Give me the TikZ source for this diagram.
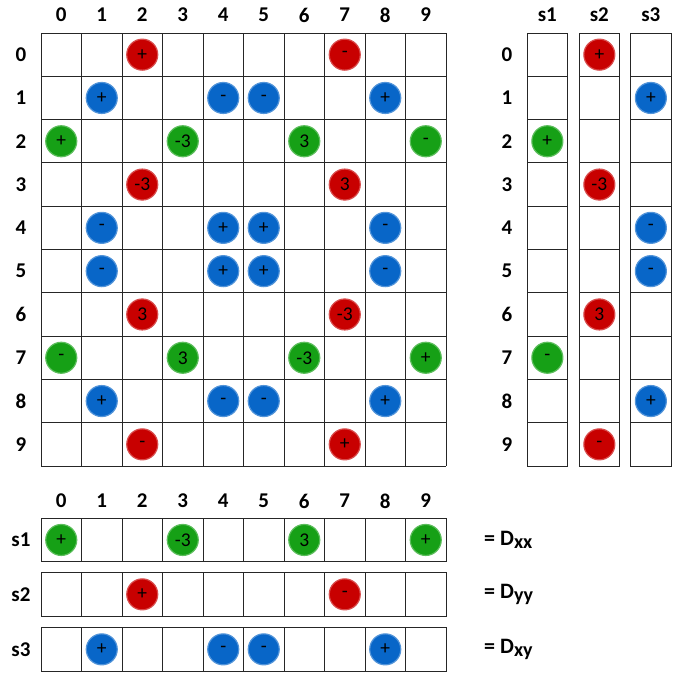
\documentclass[tikz,border=0pt]{standalone}
\usepackage{fontspec}
\setmainfont{Carlito}
\definecolor{cred}{RGB}{200,0,0}
\definecolor{cblue}{RGB}{8,102,200}
\definecolor{cgreen}{RGB}{22,160,22}
\begin{document}
\begin{tikzpicture}[x=1pt,y=-1pt,
  cell/.style={draw=black!85, line width=0.9pt},
  lab/.style={font=\fontsize{21}{23}\selectfont\bfseries},
  dot/.style={circle, minimum size=31pt, inner sep=0pt, fill=#1, draw=#1!70, line width=1.2pt,
    font=\fontsize{19.5}{19.5}\selectfont},
]
\useasboundingbox (0,0) rectangle (683,675);
% ---------- main grid ----------
\foreach \i in {0,...,10} \draw[cell] ({41+40.5*\i},33) -- ({41+40.5*\i},466);
\foreach \j in {0,...,10} \draw[cell] (41,{33+43.3*\j}) -- (446,{33+43.3*\j});
\foreach \i in {0,...,9} {
  \node[lab] (mc\i) at ({41+40.5*(\i+0.5)},15) {\i};
  \node[lab] (mr\i) at (21,{33+43.3*(\i+0.5)}) {\i};
}
\foreach \r/\c/\k/\t in {
  0/2/cred/+, 0/7/cred/-,
  1/1/cblue/+, 1/4/cblue/-, 1/5/cblue/-, 1/8/cblue/+,
  2/0/cgreen/+, 2/3/cgreen/-3, 2/6/cgreen/3, 2/9/cgreen/-,
  3/2/cred/-3, 3/7/cred/3,
  4/1/cblue/-, 4/4/cblue/+, 4/5/cblue/+, 4/8/cblue/-,
  5/1/cblue/-, 5/4/cblue/+, 5/5/cblue/+, 5/8/cblue/-,
  6/2/cred/3, 6/7/cred/-3,
  7/0/cgreen/-, 7/3/cgreen/3, 7/6/cgreen/-3, 7/9/cgreen/+,
  8/1/cblue/+, 8/4/cblue/-, 8/5/cblue/-, 8/8/cblue/+,
  9/2/cred/-, 9/7/cred/+}
  \node[dot=\k] (m\r\c) at ({41+40.5*(\c+0.5)},{33+43.3*(\r+0.5)}) {\t};
% ---------- right columns ----------
\foreach \s/\x in {1/527, 2/579, 3/630.5} {
  \draw[cell] (\x,33) rectangle ({\x+40.7},466);
  \foreach \j in {1,...,9} \draw[cell] (\x,{33+43.3*\j}) -- ({\x+40.7},{33+43.3*\j});
  \node[lab] (sc\s) at ({\x+20.35},15) {s\s};
}
\foreach \i in {0,...,9}
  \node[lab] (sr\i) at (507,{33+43.3*(\i+0.5)}) {\i};
\foreach \r/\x/\k/\t in {
  2/527/cgreen/+, 7/527/cgreen/-,
  0/579/cred/+, 3/579/cred/-3, 6/579/cred/3, 9/579/cred/-,
  1/630.5/cblue/+, 4/630.5/cblue/-, 5/630.5/cblue/-, 8/630.5/cblue/+}
  \node[dot=\k] at ({\x+20.35},{33+43.3*(\r+0.5)}) {\t};
% ---------- bottom rows ----------
\foreach \i in {0,...,9}
  \node[lab] (bc\i) at ({41+40.5*(\i+0.5)},501) {\i};
\foreach \s/\y/\sub in {1/518.3/xx, 2/572.7/yy, 3/627.7/xy} {
  \draw[cell] (41,\y) rectangle (446,{\y+43.3});
  \foreach \i in {1,...,9} \draw[cell] ({41+40.5*\i},\y) -- ({41+40.5*\i},{\y+43.3});
  \node[lab] (br\s) at (21,{\y+21.65}) {s\s};
  \node[anchor=west, inner sep=0pt, font=\fontsize{22}{24}\selectfont\bfseries] (eq\s) at (484,{\y+21.65}) {= D\raisebox{-0.3ex}{\fontsize{20}{20}\selectfont\sub}};
}
\foreach \y/\c/\k/\t in {
  518.3/0/cgreen/+, 518.3/3/cgreen/-3, 518.3/6/cgreen/3, 518.3/9/cgreen/+,
  572.7/2/cred/+, 572.7/7/cred/-,
  627.7/1/cblue/+, 627.7/4/cblue/-, 627.7/5/cblue/-, 627.7/8/cblue/+}
  \node[dot=\k] at ({41+40.5*(\c+0.5)},{\y+21.65}) {\t};
\end{tikzpicture}
\end{document}
